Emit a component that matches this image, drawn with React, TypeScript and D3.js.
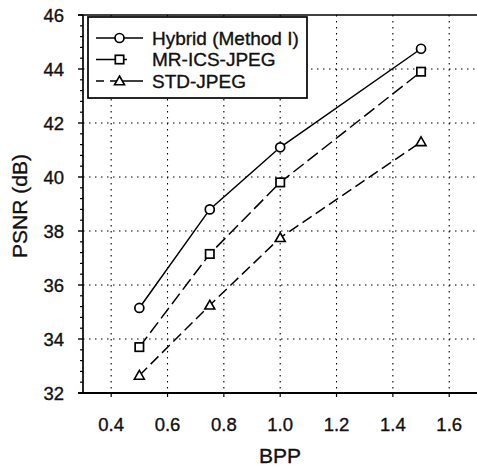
import React from "react";
import * as d3 from "d3";

const bpp = [0.5, 0.75, 1.0, 1.5];
const hybrid = [35.15, 38.8, 41.1, 44.75];
const mrics = [33.7, 37.15, 39.8, 43.9];
const stdjpeg = [32.65, 35.25, 37.75, 41.3];
const xTicks = [0.4, 0.6, 0.8, 1.0, 1.2, 1.4, 1.6];
const yTicks = [32, 34, 36, 38, 40, 42, 44, 46];
const seriesNames = ["Hybrid (Method I)", "MR-ICS-JPEG", "STD-JPEG"];

const W = 477, H = 468;
const L = 83, T = 15, B = 393;
const FONT = "'Liberation Sans', Arial, Helvetica, sans-serif";

export default function App() {
  const x = d3.scaleLinear().domain([0.3, 1.7]).range([L, L + 1.4 * 281.7]);
  const y = d3.scaleLinear().domain([32, 46]).range([B, T]);
  const minorY = d3.range(32, 46.001, 0.4).filter((v) => Math.abs(v - Math.round(v / 2) * 2) > 0.05);

  const series = [
    { name: seriesNames[0], vals: hybrid, dash: "none", marker: "circle" },
    { name: seriesNames[1], vals: mrics, dash: "13,5", marker: "square" },
    { name: seriesNames[2], vals: stdjpeg, dash: "11,5", marker: "triangle" },
  ];

  const line = d3.line<[number, number]>().x((d) => x(d[0])).y((d) => y(d[1]));

  const marker = (kind: string, cx: number, cy: number, key: string) => {
    if (kind === "circle")
      return <circle key={key} cx={cx} cy={cy} r={4.5} fill="#fff" stroke="#000" strokeWidth={1.7} />;
    if (kind === "square")
      return <rect key={key} x={cx - 4.2} y={cy - 4.2} width={8.4} height={8.4} fill="#fff" stroke="#000" strokeWidth={1.7} />;
    const s = 5;
    return (
      <path key={key} d={`M${cx},${cy - s}L${cx + s},${cy + s * 0.75}L${cx - s},${cy + s * 0.75}Z`}
        fill="#fff" stroke="#000" strokeWidth={1.6} />
    );
  };

  const txt = { fill: "#111", stroke: "#111", strokeWidth: 0.35 };

  return (
    <svg width={W} height={H} style={{ position: "absolute", left: 0, top: 0, background: "#fff" }}
      fontFamily={FONT}>
      <rect x={0} y={0} width={W} height={H} fill="#fff" />
      {/* grid */}
      {yTicks.filter((v) => v > 32 && v < 46).map((v) => (
        <line key={"gy" + v} x1={L} x2={W} y1={y(v)} y2={y(v)} stroke="#000" strokeWidth={1.2} strokeDasharray="1.5,4.5" />
      ))}
      {xTicks.map((v) => (
        <line key={"gx" + v} x1={x(v)} x2={x(v)} y1={T} y2={B} stroke="#000" strokeWidth={1.1} strokeDasharray="1.5,4.5" />
      ))}
      {/* axes frame */}
      <line x1={L - 5} x2={W} y1={T} y2={T} stroke="#000" strokeWidth={1.7} />
      <line x1={L - 5} x2={W} y1={B} y2={B} stroke="#000" strokeWidth={2} />
      <line x1={L} x2={L} y1={T} y2={B} stroke="#000" strokeWidth={1.7} />
      {yTicks.map((v) => (
        <g key={"ty" + v}>
          <line x1={L - 5} x2={L} y1={y(v)} y2={y(v)} stroke="#000" strokeWidth={1.4} />
          <text x={64} y={y(v) + 6.5} textAnchor="end" fontSize={18.5} {...txt}>{v}</text>
        </g>
      ))}
      {minorY.map((v, i) => (
        <line key={"my" + i} x1={L - 3} x2={L} y1={y(v)} y2={y(v)} stroke="#000" strokeWidth={1.2} />
      ))}
      {xTicks.map((v) => (
        <g key={"tx" + v}>
          <line x1={x(v)} x2={x(v)} y1={B} y2={B + 4} stroke="#000" strokeWidth={1.2} />
          <text x={x(v)} y={431} textAnchor="middle" fontSize={18.5} {...txt}>{v.toFixed(1)}</text>
        </g>
      ))}
      <text x={280} y={463} textAnchor="middle" fontSize={21} {...txt}>BPP</text>
      <text transform={`translate(27,206) rotate(-90)`} textAnchor="middle" fontSize={21} {...txt}>PSNR (dB)</text>
      {/* series */}
      {series.map((s) => {
        const pts = bpp.map((b, i) => [b, s.vals[i]] as [number, number]);
        return (
          <g key={s.name}>
            <path d={line(pts) || ""} fill="none" stroke="#000" strokeWidth={1.5}
              strokeDasharray={s.dash === "none" ? undefined : s.dash} />
            {pts.map((p, i) => marker(s.marker, x(p[0]), y(p[1]), s.name + i))}
          </g>
        );
      })}
      {/* legend */}
      <rect x={88} y={17} width={219} height={81} fill="#fff" stroke="#000" strokeWidth={1.7} />
      {series.map((s, i) => {
        const ly = 38 + i * 21.5;
        return (
          <g key={"lg" + i}>
            <line x1={96} x2={143} y1={ly} y2={ly} stroke="#000" strokeWidth={1.5}
              strokeDasharray={s.dash === "none" ? undefined : i === 1 ? "20,5,6,20" : "8,6,7,6,20"} />
            {marker(s.marker, 119.5, ly, "lm" + i)}
            <text x={152} y={ly + 6.5} fontSize={19} {...txt}>{s.name}</text>
          </g>
        );
      })}
    </svg>
  );
}
